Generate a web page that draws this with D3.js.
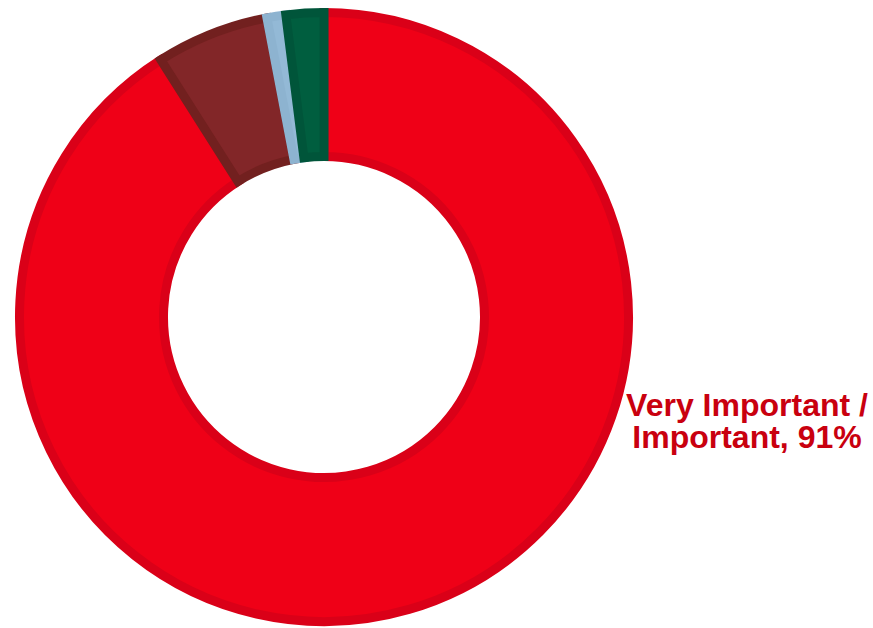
<!DOCTYPE html>
<html>
<head>
<meta charset="utf-8">
<script src="https://cdn.jsdelivr.net/npm/d3@7"></script>
<style>
  html, body { margin: 0; padding: 0; background: #ffffff; }
  svg { display: block; }
</style>
</head>
<body>
<svg id="chart" width="873" height="628"></svg>
<script>
const categories = ["Very Important / Important", "Somewhat Important", "Not Very Important", "Not Important At All"];
const values = [91, 6, 1, 2];
const fills = ["#ef0017", "#822628", "#93b9d6", "#005e3f"];
const strokes = ["#da0018", "#72201f", "#8db3d0", "#00553a"];
const labelLines = ["Very Important /", "Important, 91%"];

const svg = d3.select("#chart");
const cx = 324, cy = 317;
const strokeW = 9;
const outerR = 309 - strokeW / 2;
const innerR = 156 + strokeW / 2;

const pie = d3.pie().sort(null).value(d => d)(values);
const arc = d3.arc().innerRadius(innerR).outerRadius(outerR);

const g = svg.append("g").attr("transform", `translate(${cx},${cy})`);
g.selectAll("path")
  .data(pie)
  .join("path")
  .attr("d", arc)
  .attr("fill", (d, i) => fills[i])
  .attr("stroke", (d, i) => strokes[i])
  .attr("stroke-width", strokeW)
  .attr("stroke-linejoin", "miter");

const label = svg.append("text")
  .attr("x", 747)
  .attr("y", 416)
  .attr("text-anchor", "middle")
  .attr("font-family", "Liberation Sans, Arial, sans-serif")
  .attr("font-weight", "bold")
  .attr("font-size", 32)
  .attr("fill", "#c9000f");
label.selectAll("tspan")
  .data(labelLines)
  .join("tspan")
  .attr("x", 747)
  .attr("dy", (d, i) => i === 0 ? 0 : 32)
  .text(d => d);
</script>
</body>
</html>
